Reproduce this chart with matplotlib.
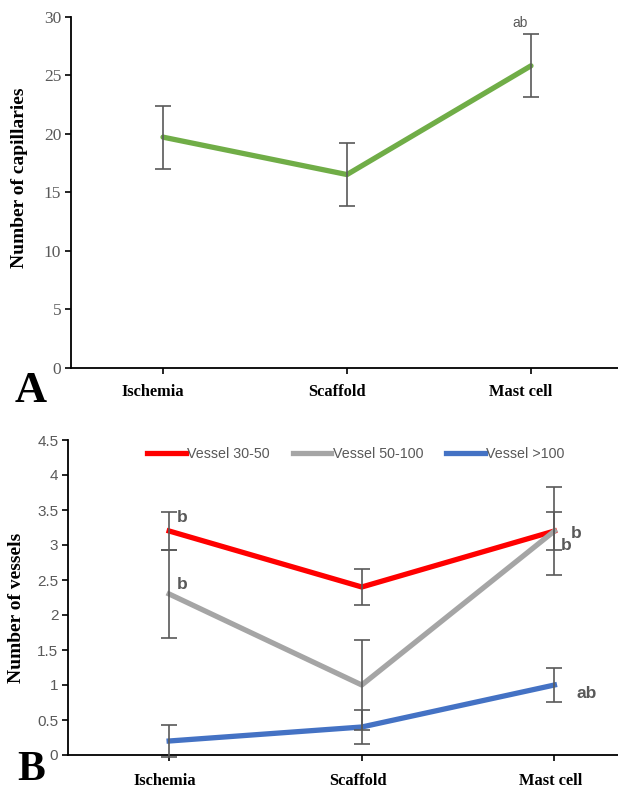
import matplotlib
import matplotlib.pyplot as plt
from matplotlib.transforms import ScaledTranslation

matplotlib.use('Agg')

# data
groups = ['Ischemia', 'Scaffold', 'Mast cell']

capillaries = [19.7, 16.5, 25.8]
capillaries_err = [2.7, 2.7, 2.7]
capillary_ticks = [0, 5, 10, 15, 20, 25, 30]

vessel_labels = ['Vessel 30-50', 'Vessel 50-100', 'Vessel >100']
vessel_means = [
    [3.2, 2.4, 3.2],
    [2.3, 1.0, 3.2],
    [0.2, 0.4, 1.0],
]
vessel_errs = [
    [0.27, 0.26, 0.63],
    [0.63, 0.64, 0.27],
    [0.23, 0.24, 0.24],
]
vessel_colors = ['#FF0000', '#A5A5A5', '#4472C4']
vessel_ticks = [0, 0.5, 1, 1.5, 2, 2.5, 3, 3.5, 4, 4.5]
vessel_tick_labels = ['0', '0.5', '1', '1.5', '2', '2.5', '3', '3.5', '4', '4.5']

# significance letters: (text, x, y)
marks_a = [('ab', 1.94, 29.45)]
marks_b = [('b', 0.07, 3.39), ('b', 0.07, 2.43), ('b', 2.06, 3.0),
           ('b', 2.115, 3.17), ('ab', 2.17, 0.885)]

GREY = '#595959'
SERIF = 'Liberation Serif'
SANS = 'Liberation Sans'

plt.rcParams['font.family'] = [SERIF, 'DejaVu Serif']

fig = plt.figure(figsize=(6.18, 7.9), dpi=100)
fig.patch.set_facecolor('white')


def style_axes(ax):
    for side in ('top', 'right'):
        ax.spines[side].set_visible(False)
    for side in ('left', 'bottom'):
        ax.spines[side].set_color('black')
        ax.spines[side].set_linewidth(1.3)
    ax.tick_params(axis='both', direction='out', length=4, width=1.2, color='black')


x = list(range(len(groups)))

# ---- panel A ----
ax1 = fig.add_axes([71 / 618, 1 - 367.5 / 790, 1 - 71 / 618, (367.5 - 16.7) / 790])
style_axes(ax1)
ax1.errorbar(x, capillaries, yerr=capillaries_err, fmt='none', ecolor=GREY,
             elinewidth=1.2, capsize=5.5, capthick=1.2, zorder=3)
ax1.plot(x, capillaries, color='#70AD47', linewidth=3.8, solid_capstyle='round', zorder=2)
ax1.set_xlim(-0.5, 2.473)
ax1.set_ylim(0, 30)
ax1.set_yticks(capillary_ticks)
ax1.set_yticklabels([str(v) for v in capillary_ticks], fontfamily=SERIF, fontsize=12.5, color=GREY)
ax1.set_xticks(x)
ax1.set_xticklabels(groups, fontfamily=SERIF, fontweight='bold', fontsize=11.8, color='black')
ax1.tick_params(axis='x', pad=8)
ax1.tick_params(axis='y', pad=3)
for lab in ax1.get_xticklabels():
    lab.set_transform(lab.get_transform() + ScaledTranslation(-0.1, 0, fig.dpi_scale_trans))
ax1.set_ylabel('Number of capillaries', fontfamily=SERIF, fontweight='bold', fontsize=14)
ax1.yaxis.set_label_coords(-0.078, 0.54)
for txt, tx, ty in marks_a:
    ax1.text(tx, ty, txt, ha='center', va='center', fontfamily=SANS, fontsize=10, color=GREY)

# ---- panel B ----
ax2 = fig.add_axes([68 / 618, 1 - 755 / 790, 1 - 68 / 618, 315 / 790])
style_axes(ax2)
for means, errs, color, label in zip(vessel_means, vessel_errs, vessel_colors, vessel_labels):
    ax2.errorbar(x, means, yerr=errs, fmt='none', ecolor=GREY, elinewidth=1.2,
                 capsize=5.5, capthick=1.2, zorder=3, clip_on=False)
    ax2.plot(x, means, color=color, linewidth=3.8, label=label, zorder=2)
ax2.set_xlim(-0.525, 2.33)
ax2.set_ylim(0, 4.5)
ax2.set_yticks(vessel_ticks)
ax2.set_yticklabels(vessel_tick_labels, fontfamily=SANS, fontsize=11, color=GREY)
ax2.set_xticks(x)
ax2.set_xticklabels(groups, fontfamily=SERIF, fontweight='bold', fontsize=11.8, color='black')
ax2.tick_params(axis='x', pad=9)
ax2.tick_params(axis='y', pad=3)
for lab in ax2.get_xticklabels():
    lab.set_transform(lab.get_transform() + ScaledTranslation(-0.04, 0, fig.dpi_scale_trans))
ax2.set_ylabel('Number of vessels', fontfamily=SERIF, fontweight='bold', fontsize=14)
ax2.yaxis.set_label_coords(-0.078, 0.467)
for txt, tx, ty in marks_b:
    ax2.text(tx, ty, txt, ha='center', va='center', fontfamily=SANS, fontsize=12.5,
             fontweight='bold', color=GREY)

leg = ax2.legend(loc='center left', bbox_to_anchor=((147 - 68) / 550, 0.956), ncol=3,
                 frameon=False, handlelength=2.7, handletextpad=0.1, columnspacing=1.6,
                 borderpad=0, borderaxespad=0, prop={'family': SANS, 'size': 10.3})
for t in leg.get_texts():
    t.set_color(GREY)

# panel letters
fig.text(15 / 618, 1 - 402 / 790, 'A', fontfamily=SERIF, fontweight='bold', fontsize=32,
         va='baseline', ha='left')
fig.text(17 / 618, 1 / 790, 'B', fontfamily=SERIF, fontweight='bold', fontsize=30,
         va='bottom', ha='left')

plt.savefig('out.png', dpi=100, facecolor='white')
